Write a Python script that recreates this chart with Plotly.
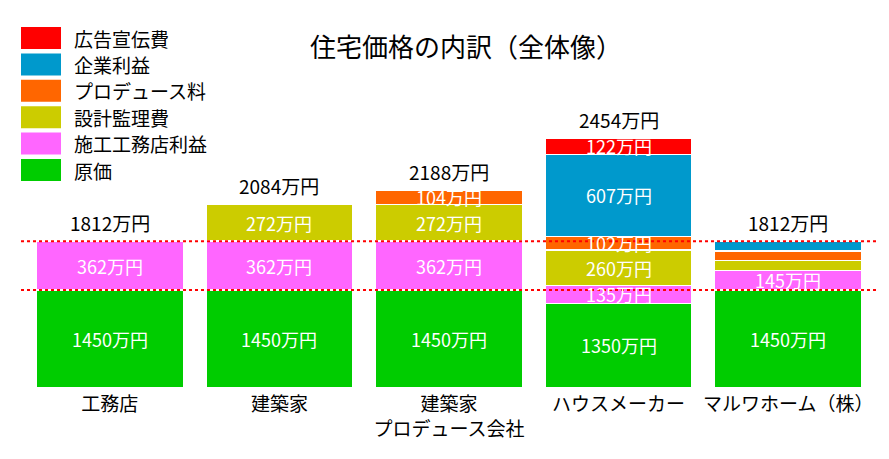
import plotly.graph_objects as go

# ---------------- data ----------------
categories = ["工務店", "建築家", "建築家<br>プロデュース会社", "ハウスメーカー", "マルワホーム（株）"]
series_names = ["原価", "施工工務店利益", "設計監理費", "プロデュース料", "企業利益", "広告宣伝費"]
genka = [1450, 1450, 1450, 1350, 1450]
sekou_rieki = [362, 362, 362, 135, 145]
sekkei_kanri = [None, 272, 272, 260, 72]
produce_ryo = [None, None, 104, 102, 73]
kigyo_rieki = [None, None, None, 607, 72]
koukoku = [None, None, None, 122, None]
totals = [1812, 2084, 2188, 2454, 1812]
ref_levels = [1450, 1812]

colors = ["#00CC00", "#FF66FF", "#CCCC00", "#FF6600", "#0099CC", "#FF0000"]
series_values = [genka, sekou_rieki, sekkei_kanri, produce_ryo, kigyo_rieki, koukoku]

FONT = "Noto Sans CJK JP"
W, H = 889, 459
L, R, T, B = 25, 16, 100, 72
PW, PH = W - L - R, H - T - B
Y0 = 731.5
K = 0.135  # px per unit
Y1 = Y0 + PH / K


def px_x(x):
    return (x - L) / PW


def px_y(y):
    return (H - B - y) / PH


fig = go.Figure()
for name, vals, col in zip(series_names, series_values, colors):
    fig.add_trace(go.Bar(
        x=categories, y=vals, name=name, marker=dict(color=col, line=dict(color="white", width=1.5)),
        showlegend=False, hoverinfo="skip",
    ))

annotations = []
# segment labels
cum = [0] * len(categories)
for vals in series_values:
    for i, v in enumerate(vals):
        if v is None:
            continue
        base = cum[i]
        top = base + v
        if v >= 100:
            mid = (max(base, Y0) + top) / 2
            annotations.append(dict(x=categories[i], y=mid, xref="x", yref="y", text=f"{v}万円",
                                    showarrow=False, font=dict(family=FONT, size=18, color="white")))
        cum[i] = top
# total labels
for i, tot in enumerate(totals):
    annotations.append(dict(x=categories[i], y=cum[i], xref="x", yref="y", text=f"{tot}万円",
                            showarrow=False, yanchor="bottom", yshift=3,
                            font=dict(family=FONT, size=19, color="black")))

# title
annotations.append(dict(x=px_x(466), y=px_y(45), xref="paper", yref="paper", text="住宅価格の内訳（全体像）",
                        showarrow=False, xanchor="center", yanchor="middle",
                        font=dict(family=FONT, size=26, color="black")))

# legend (drawn manually, top to bottom)
shapes = []
for j, idx in enumerate(range(len(series_names) - 1, -1, -1)):
    cy = 38 + 26.4 * j
    shapes.append(dict(type="rect", xref="paper", yref="paper",
                       x0=px_x(21), x1=px_x(61), y0=px_y(cy + 11), y1=px_y(cy - 11),
                       fillcolor=colors[idx], line=dict(width=0)))
    annotations.append(dict(x=px_x(72), y=px_y(cy), xref="paper", yref="paper", text=series_names[idx],
                            showarrow=False, xanchor="left", yanchor="middle",
                            font=dict(family=FONT, size=19, color="black")))

# reference dashed lines
for lv in ref_levels:
    shapes.append(dict(type="line", xref="paper", yref="y", x0=px_x(21), x1=px_x(876), y0=lv, y1=lv,
                       line=dict(color="#FF0000", width=2, dash="dot"), layer="above"))

fig.update_layout(
    width=W, height=H, margin=dict(l=L, r=R, t=T, b=B),
    paper_bgcolor="white", plot_bgcolor="white",
    barmode="stack", bargap=0.133,
    annotations=annotations, shapes=shapes,
    font=dict(family=FONT, color="black"),
    xaxis=dict(showgrid=False, showline=False, ticks="", zeroline=False, ticklabelstandoff=4,
               tickfont=dict(family=FONT, size=19, color="black")),
    yaxis=dict(visible=False, range=[Y0, Y1], showgrid=False),
)

fig.write_html("out.html")
